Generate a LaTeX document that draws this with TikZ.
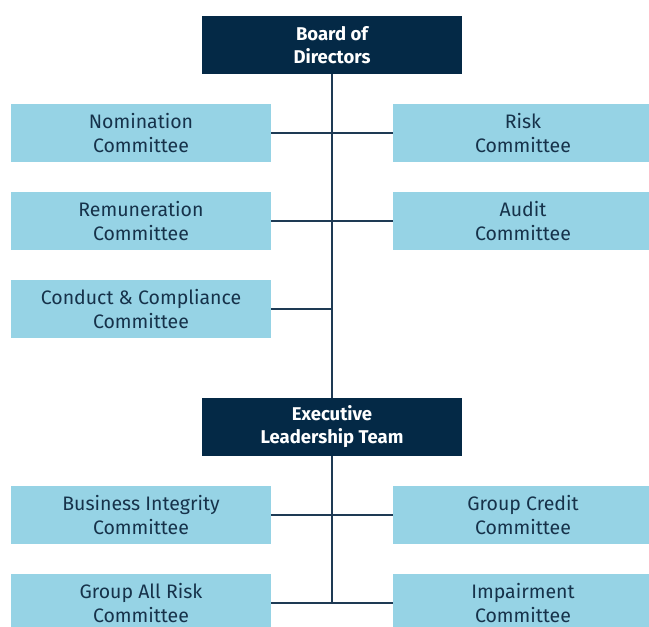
\documentclass[tikz,border=0pt]{standalone}
\usepackage{fontspec}
\setmainfont{Fira Sans}
\usetikzlibrary{positioning}
\definecolor{navy}{RGB}{4,41,70}
\definecolor{sky}{RGB}{150,211,229}
\definecolor{ink}{RGB}{22,50,74}
\definecolor{wire}{RGB}{30,58,84}

\begin{document}
\begin{tikzpicture} [node distance = 88pt, on grid,
board/.style = {fill = navy, text = white, font = \fontsize{18.5}{23}\selectfont\bfseries, minimum width = 260pt, minimum height = 58pt, inner sep = 0pt, align = center},
cmte/.style = {fill = sky, text = ink, font = \fontsize{19.5}{24}\selectfont, minimum width = 260pt, minimum height = 58pt, inner sep = 0pt, align = center},
link/.style = {draw = wire, line width = 2pt}]

\useasboundingbox (0pt,0pt) rectangle (649pt,-627pt);

\node (bod) [board] at (332pt,-45pt) {Board of\\Directors};
\node (nom) [cmte, below left = 88pt and 191pt of bod] {Nomination\\Committee};
\node (risk) [cmte, right = 382pt of nom] {Risk\\Committee};
\node (rem) [cmte, below = of nom] {Remuneration\\Committee};
\node (audit) [cmte, below = of risk] {Audit\\Committee};
\node (cc) [cmte, below = of rem] {Conduct \& Compliance\\Committee};
\node (elt) [board, below = 382pt of bod] {Executive\\Leadership Team};
\node (bi) [cmte, below left = 88pt and 191pt of elt] {Business Integrity\\Committee};
\node (gc) [cmte, right = 382pt of bi] {Group Credit\\Committee};
\node (gar) [cmte, below = of bi] {Group All Risk\\Committee};
\node (imp) [cmte, below = of gc] {Impairment\\Committee};

\coordinate (end) at (gar.east -| elt.south);

\path [link]
    (bod.south) edge (elt.north)
    (elt.south) edge (end)
    (nom.east) edge (risk.west)
    (rem.east) edge (audit.west)
    (cc.east) edge (cc.east -| bod.south)
    (bi.east) edge (gc.west)
    (gar.east) edge (imp.west);
\end{tikzpicture}
\end{document}
